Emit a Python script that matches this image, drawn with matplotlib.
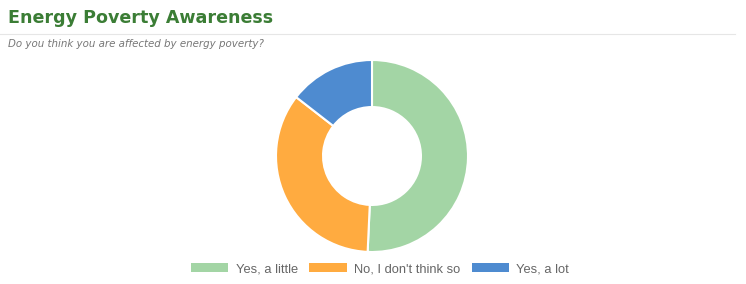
import matplotlib.pyplot as plt
from matplotlib.patches import Patch

# DATA
labels = ["Yes, a little", "No, I don't think so", "Yes, a lot"]
values = [35, 24, 10]
colors = ["#a3d5a5", "#ffab40", "#4e8bd0"]

W, H = 746, 284

fig = plt.figure(figsize=(W / 100, H / 100), dpi=100, facecolor="w")

# title + subtitle
fig.text(8 / W, 1 - 18 / H, "Energy Poverty Awareness", fontsize=12.6, fontweight="bold",
         color="#3b7d35", family="DejaVu Sans", va="center", ha="left")
fig.add_artist(plt.Line2D([0, 735 / W], [1 - 34 / H, 1 - 34 / H], color="#e6e6e6", linewidth=0.8))
fig.text(8 / W, 1 - 44 / H, "Do you think you are affected by energy poverty?", fontsize=7.4,
         style="italic", color="#777777", family="DejaVu Sans", va="center", ha="left")

# donut
cx, cy, r = 372, 156, 96
ax = fig.add_axes([(cx - r) / W, (H - cy - r) / H, 2 * r / W, 2 * r / H])
ax.pie(values, colors=colors, startangle=90, counterclock=False, radius=1,
       wedgeprops=dict(width=0.49, edgecolor="white", linewidth=1.5))
ax.set_xlim(-1.0, 1.0)
ax.set_ylim(-1.0, 1.0)
ax.axis("off")

# legend
handles = [Patch(facecolor=c, edgecolor="none") for c in colors]
fig.legend(handles, labels, loc="center", bbox_to_anchor=(380 / W, 1 - 269 / H), ncol=3,
           frameon=False, prop={"family": "Liberation Sans", "size": 9.3},
           labelcolor="#666666", handlelength=2.9, handleheight=0.7,
           handletextpad=0.55, columnspacing=0.9)

fig.savefig("out.png", dpi=100)
